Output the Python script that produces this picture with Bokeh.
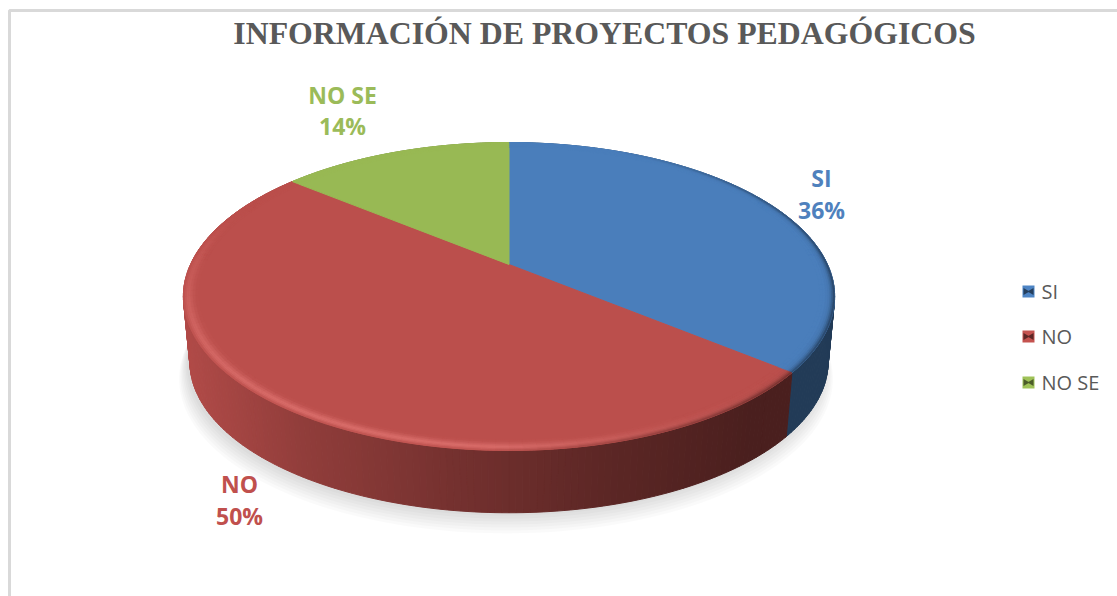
import numpy as np
from bokeh.plotting import figure
from bokeh.models import Range1d
from bokeh.core.properties import value
from bokeh.embed import file_html
from bokeh.resources import INLINE

title = "INFORMACIÓN DE PROYECTOS PEDAGÓGICOS"
categories = ["SI", "NO", "NO SE"]
values = [36, 50, 14]
colors = [(74, 126, 187), (187, 79, 76), (152, 185, 84)]
label_colors = ["#4f81bd", "#c0504d", "#9bbb59"]
label_x = [821, 239, 342]
label_y1 = [177, 483, 94]
label_y2 = [209, 515, 125]
legend_y = [291, 336, 382]

W, H = 1117, 596
p = figure(width=W, height=H, output_backend="svg", toolbar_location=None,
           x_range=Range1d(0, W), y_range=Range1d(H, 0),
           min_border=0, outline_line_color=None, background_fill_color="white",
           border_fill_color="white")
p.axis.visible = False
p.grid.visible = False

CX, CY, A, B, K = 508.5, 264.0, 318.5, 147.3, 0.208
WALL_DY, WALL_S = 66.0, 0.98


def proj(th, r=1.0, s=1.0, cy=CY):
    u, v = np.sin(th), np.cos(th)
    w = 1 + K * r * v
    return CX + s * A * r * u / w, cy - s * B * r * v / w


def rgb(c, f=1.0, add=0.0):
    return "#%02x%02x%02x" % tuple(int(np.clip(x * f + add, 0, 255)) for x in c)


fr = np.cumsum([0] + values) / sum(values) * 2 * np.pi


def slice_of(t):
    t = t % (2 * np.pi)
    return int(np.clip(np.searchsorted(fr, t, side="right") - 1, 0, len(values) - 1))


# soft shadow
full = np.linspace(0, 2 * np.pi, 241)
for i in range(7):
    sc = WALL_S + 0.004 * i
    x, y = proj(full, 1, sc, CY + WALL_DY + 3 + i * 2.2)
    p.patch(x - 3, y, fill_color="#000000", fill_alpha=0.018, line_color=None)

# wall
edges = np.unique(np.concatenate([np.linspace(0, 2 * np.pi, 361), fr]))
mids = (edges[:-1] + edges[1:]) / 2
order = np.argsort(-np.cos(mids))
xs, ys, cs = [], [], []
sx = [183, 300, 450, 600, 750, 835]
sf = [0.95, 0.78, 0.63, 0.50, 0.40, 0.40]
for j in order:
    a, b = edges[j], edges[j + 1]
    xa, ya = proj(a)
    xb, yb = proj(b)
    xc, yc = proj(b, 1, WALL_S, CY + WALL_DY)
    xd, yd = proj(a, 1, WALL_S, CY + WALL_DY)
    xs.append([xa, xb, xc, xd])
    ys.append([ya, yb, yc, yd])
    k = slice_of(mids[j])
    f = float(np.interp((xa + xb) / 2, sx, sf))
    if k == 0:
        f = 0.47
    cs.append(rgb(colors[k], f))
p.patches(xs, ys, fill_color=cs, line_color=cs, line_width=1)

# top surface
for k in range(len(values)):
    t = np.linspace(fr[k], fr[k + 1], 120)
    x, y = proj(t)
    p.patch(np.r_[CX, x], np.r_[CY, y], fill_color=rgb(colors[k]), line_color=rgb(colors[k]))

# bevelled rim
rad = [0.955, 0.965, 0.973, 0.98, 0.986, 0.991, 0.996, 1.0]
prof_l = [0.1, 0.35, 0.7, 1.0, 1.0, 0.7, 0.3]
prof_d = [0.0, 0.0, 0.05, 0.12, 0.3, 0.6, 1.0]
xs, ys, cs = [], [], []
edges2 = np.unique(np.concatenate([np.linspace(0, 2 * np.pi, 181), fr]))
for a, b in zip(edges2[:-1], edges2[1:]):
    m = (a + b) / 2
    u, v = np.sin(m), np.cos(m)
    light = np.clip(-0.35 * u - 0.9 * v, 0, 1)
    dark = np.clip(1.1 * u - 0.25 * v - 0.2, 0, 1)
    c = colors[slice_of(m)]
    for i in range(len(rad) - 1):
        r0, r1 = rad[i], rad[i + 1]
        xa, ya = proj(a, r0)
        xb, yb = proj(b, r0)
        xc, yc = proj(b, r1)
        xd, yd = proj(a, r1)
        xs.append([xa, xb, xc, xd])
        ys.append([ya, yb, yc, yd])
        cs.append(rgb(c, 1 - 0.45 * dark * prof_d[i], 30 * light * prof_l[i] * (1 - dark)))
p.patches(xs, ys, fill_color=cs, line_color=cs, line_width=0.6)

# chart frame
p.line([9, 9, W], [H, 10, 10], line_color="#d9d9d9", line_width=3)

# title and data labels
p.text([604], [33], text=[title], text_align="center", text_baseline="middle",
       text_font=value("Liberation Serif"), text_font_style="bold",
       text_font_size="31.8px", text_color="#595959")
lab_font = dict(text_align="center", text_baseline="middle", text_font=value("Open Sans"),
                text_font_style="bold", text_font_size="23px", text_color=label_colors)
p.text(label_x, label_y1, text=categories, **lab_font)
p.text(label_x, label_y2, text=[f"{v}%" for v in values], **lab_font)

# legend
lx = np.array([1028] * 3)
p.scatter(lx, legend_y, marker="square", size=12, fill_color=[rgb(c, 1.05) for c in colors], line_color=None)
p.scatter(lx - 3, legend_y, marker="triangle", size=7, angle=-np.pi / 2,
          fill_color=[rgb(c, 0.5) for c in colors], line_color=None)
p.scatter(lx + 3, legend_y, marker="triangle", size=7, angle=np.pi / 2,
          fill_color=[rgb(c, 0.5) for c in colors], line_color=None)
p.text([1041] * 3, legend_y, text=categories, text_align="left", text_baseline="middle",
       text_font=value("Open Sans"), text_font_size="20px", text_color="#595959")

open("out.html", "w").write(file_html(p, INLINE))
